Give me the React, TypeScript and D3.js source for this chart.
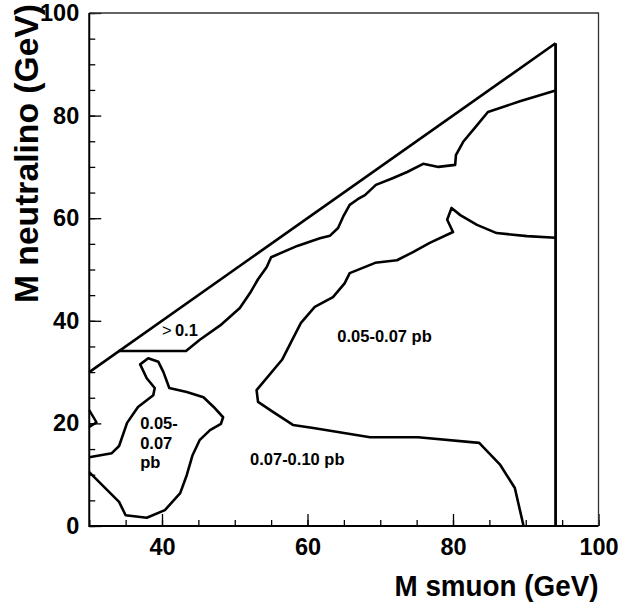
import { FC, useEffect, useRef } from 'react';
import * as d3 from 'd3';

type Pt = [number, number];

// kinematic limit: M neutralino = M smuon, then the LEP reach at ~94 GeV
const diagonalEdge: Pt[] = [[30, 30], [94.1, 94.1]];
const reachEdge: Pt[] = [[94.1, 94.1], [94.1, 0]];

// > 0.1 pb region boundary
const above01: Pt[] = [
  [34, 34.1], [43.3, 34.1], [45.2, 36.3], [48.0, 39.1], [50.7, 42.5], [52.1, 45.4],
  [53.2, 48.1], [54.4, 50.5], [55.0, 52.4], [58.6, 54.6], [61.7, 56.1], [63.1, 56.6],
  [64.2, 58.1], [64.9, 60.3], [65.8, 62.6], [66.9, 63.7], [67.9, 64.5], [69.4, 66.5],
  [71.7, 67.8], [73.7, 69.0], [75.9, 70.6], [78.0, 70.0], [80.3, 70.4], [80.4, 72.3],
  [81.4, 74.9], [83.0, 77.6], [84.8, 80.7], [89.2, 82.8], [94.1, 84.9],
];

// 0.05-0.07 pb (large region) boundary
const mid0507: Pt[] = [
  [94.1, 56.2], [90.2, 56.5], [86.0, 57.1], [83.3, 58.7], [81.0, 60.6], [79.8, 62.0],
  [79.2, 59.7], [80.0, 57.3], [76.8, 55.2], [74.5, 53.4], [72.3, 51.8], [69.3, 51.3],
  [65.8, 49.3], [65.1, 47.3], [63.5, 44.6], [61.0, 42.7], [59.1, 39.6], [57.9, 36.3],
  [56.5, 32.4], [53.0, 26.5], [53.2, 24.2], [55.3, 22.2], [58.0, 19.7], [60.8, 19.1],
  [68.6, 17.3], [75.2, 17.3], [83.6, 16.2], [86.5, 11.9], [88.5, 7.4], [89.7, 0],
];

// 0.05-0.07 pb (small blob) boundary
const blob0507: Pt[] = [
  [30, 10.5], [34.1, 4.7], [35.0, 2.1], [37.9, 1.6], [40.4, 3.1], [42.5, 6.4],
  [43.4, 9.9], [44.2, 13.8], [45.2, 16.8], [46.6, 18.7], [48.1, 19.9], [48.4, 21.2],
  [47.1, 23.2], [45.7, 25.1], [43.4, 26.1], [41.0, 26.9], [40.2, 30.0], [39.5, 32.0],
  [38.1, 32.7], [37.0, 31.5], [37.9, 28.8], [39.0, 26.9], [38.8, 25.5], [36.7, 23.2],
  [35.2, 20.1], [34.1, 15.6], [33.1, 14.2], [30, 13.4],
];

const edgeNotch: Pt[] = [[30, 22.6], [31.0, 20.2], [30, 19.3]];

const xMajor = [40, 60, 80, 100];
const yMajor = [0, 20, 40, 60, 80, 100];

const labels = [
  { lines: ['0.1'], gt: true, x: 40.0, y: 37.0 },
  { lines: ['0.05-', '0.07', 'pb'], gt: false, x: 37.0, y: 18.9 },
  { lines: ['0.07-0.10 pb'], gt: false, x: 52.1, y: 11.9 },
  { lines: ['0.05-0.07 pb'], gt: false, x: 64.1, y: 35.9 },
];

const FONT = '"Liberation Sans", Arial, Helvetica, sans-serif';

const App: FC = () => {
  const ref = useRef<SVGSVGElement | null>(null);

  useEffect(() => {
    const svg = d3.select(ref.current);
    svg.selectAll('*').remove();

    const left = 89.25, right = 598.5, top = 13, bottom = 526;
    const x = d3.scaleLinear().domain([30, 100]).range([left, right]);
    const y = d3.scaleLinear().domain([0, 100]).range([bottom, top]);

    const minorX = d3.range(30, 100.1, 5);
    const minorY = d3.range(0, 100.1, 5);

    // minor ticks
    svg.append('g')
      .attr('transform', `translate(0,${bottom})`)
      .call(d3.axisBottom(x).tickValues(minorX).tickSize(-6).tickFormat(() => ''))
      .call(g => g.select('.domain').remove());
    svg.append('g')
      .attr('transform', `translate(${left},0)`)
      .call(d3.axisLeft(y).tickValues(minorY).tickSize(-6).tickFormat(() => ''))
      .call(g => g.select('.domain').remove());

    // major ticks with labels
    const xa = svg.append('g')
      .attr('transform', `translate(0,${bottom})`)
      .call(d3.axisBottom(x).tickValues(xMajor).tickSize(-12).tickPadding(12).tickFormat(d3.format('d')));
    xa.select('.domain').remove();
    const ya = svg.append('g')
      .attr('transform', `translate(${left},0)`)
      .call(d3.axisLeft(y).tickValues(yMajor).tickSize(-12).tickPadding(10).tickFormat(d3.format('d')));
    ya.select('.domain').remove();

    svg.selectAll('.tick line').attr('stroke', '#000').attr('stroke-width', 1.3);
    svg.selectAll('.tick text')
      .attr('fill', '#000')
      .attr('font-family', FONT)
      .attr('font-weight', 'bold')
      .attr('font-size', 23.5);

    // frame
    svg.append('path')
      .attr('d', `M${left},${top}H${right}V${bottom}`)
      .attr('fill', 'none')
      .attr('stroke', '#333')
      .attr('stroke-width', 1.3);
    svg.append('path')
      .attr('d', `M${left},${top}V${bottom}H${right}`)
      .attr('fill', 'none')
      .attr('stroke', '#000')
      .attr('stroke-width', 2);

    // contours
    const line = d3.line<Pt>().x(d => x(d[0])).y(d => y(d[1]));
    const curves: [Pt[], number][] = [
      [diagonalEdge, 2.6], [reachEdge, 2.8], [above01, 2.6], [mid0507, 2.6],
      [blob0507, 2.6], [edgeNotch, 2.4],
    ];
    svg.append('g')
      .selectAll('path')
      .data(curves)
      .enter()
      .append('path')
      .attr('d', d => line(d[0]))
      .attr('fill', 'none')
      .attr('stroke', '#000')
      .attr('stroke-width', d => d[1])
      .attr('stroke-linejoin', 'round');

    // region labels
    const lab = svg.append('g')
      .attr('font-family', FONT)
      .attr('font-weight', 'bold')
      .attr('font-size', 16.5)
      .selectAll('text')
      .data(labels)
      .enter()
      .append('text')
      .attr('x', d => x(d.x))
      .attr('y', d => y(d.y));
    lab.each(function (d) {
      const t = d3.select(this);
      d.lines.forEach((s, i) => {
        const ts = t.append('tspan').attr('x', x(d.x)).attr('dy', i === 0 ? 0 : 19.5);
        if (d.gt && i === 0) {
          ts.append('tspan').attr('font-weight', 'normal').text('>');
          ts.append('tspan').text('\u2009' + s);
        } else {
          ts.text(s);
        }
      });
    });

    // axis titles
    svg.append('text')
      .attr('x', right)
      .attr('y', 596)
      .attr('text-anchor', 'end')
      .attr('font-family', FONT)
      .attr('font-weight', 'bold')
      .attr('font-size', 29)
      .attr('textLength', 204)
      .attr('lengthAdjust', 'spacingAndGlyphs')
      .text('M smuon (GeV)');
    svg.append('text')
      .attr('transform', 'translate(38,303) rotate(-90)')
      .attr('font-family', FONT)
      .attr('font-weight', 'bold')
      .attr('font-size', 33)
      .attr('textLength', 299)
      .attr('lengthAdjust', 'spacingAndGlyphs')
      .text('M neutralino (GeV)');
  }, []);

  return (
    <svg
      ref={ref}
      width={621}
      height={609}
      style={{ position: 'absolute', left: 0, top: 0, background: '#fff' }}
    />
  );
};

export default App;
